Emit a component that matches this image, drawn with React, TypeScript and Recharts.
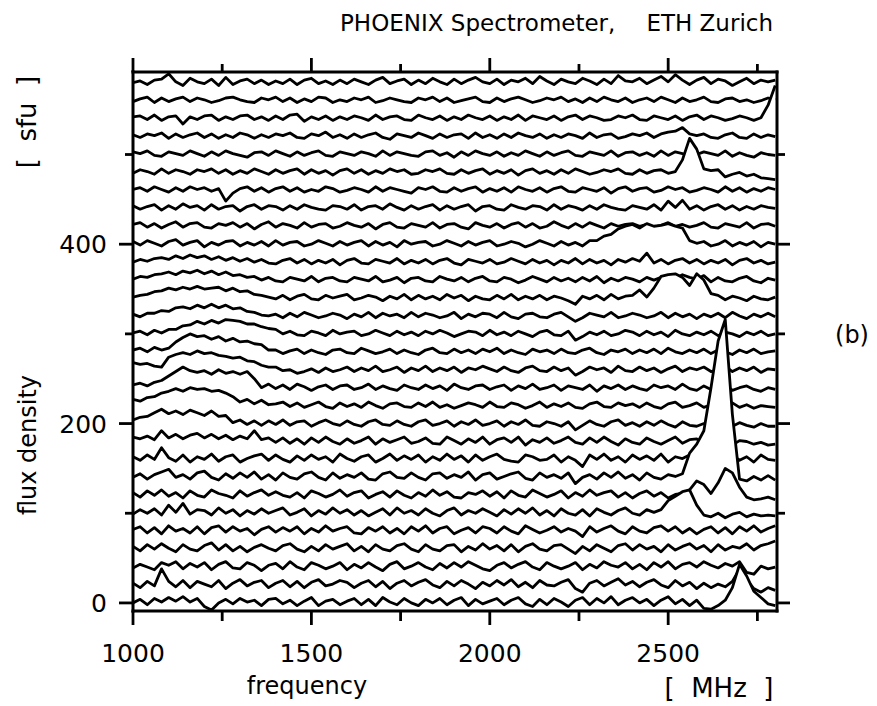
import React from 'react';
import { AreaChart, Area, XAxis, YAxis } from 'recharts';

const freqs = [
  1000, 1020, 1040, 1060, 1080, 1100, 1120, 1140, 1160, 1180,
  1200, 1220, 1240, 1260, 1280, 1300, 1320, 1340, 1360, 1380,
  1400, 1420, 1440, 1460, 1480, 1500, 1520, 1540, 1560, 1580,
  1600, 1620, 1640, 1660, 1680, 1700, 1720, 1740, 1760, 1780,
  1800, 1820, 1840, 1860, 1880, 1900, 1920, 1940, 1960, 1980,
  2000, 2020, 2040, 2060, 2080, 2100, 2120, 2140, 2160, 2180,
  2200, 2220, 2240, 2260, 2280, 2300, 2320, 2340, 2360, 2380,
  2400, 2420, 2440, 2460, 2480, 2500, 2520, 2540, 2560, 2580,
  2600, 2620, 2640, 2660, 2680, 2700, 2720, 2740, 2760, 2780,
  2800,
];

const offsets = [0, 20, 40, 60, 80, 100, 120, 140, 160, 180, 200, 220, 240, 260, 280, 300, 320, 340, 360, 380, 400, 420, 440, 460, 480, 500, 520, 540, 560, 580];

const xTicks = [1000, 1250, 1500, 1750, 2000, 2250, 2500, 2750];
const xLabels = [1000, 1500, 2000, 2500];
const yTicks = [0, 100, 200, 300, 400, 500];
const yLabels = [0, 200, 400];

const s0 = [0,4,-2,5,1,6,2,7,1,5, -4,-8,0,4,-1,5,1,3,-3,4, 5,-1,3,-3,2,6,-3,2,4,-2, 2,5,-2,4,-3,6,1,-2,5,0, -3,4,0,5,-2,3,6,-3,4,-1, 2,5,-2,3,6,-1,-4,4,-2,5, 1,-4,3,6,-2,5,0,7,-2,3, 6,0,4,-3,3,7,-1,4,-3,3, -6,-7,-3,3,17,43,30,13,6,-1, -3];
const s1 = [2,-3,4,-1,18,4,-2,5,-3,4, 1,-2,5,-4,2,6,-1,3,5,-3, 2,5,-2,4,-3,3,6,-1,1,5, 3,-3,2,5,-2,4,-4,2,5,-1, 3,6,0,-3,4,-1,5,1,-4,3, -1,5,0,6,-2,3,-3,5,0,-1, 3,6,-4,-8,2,5,-1,3,7,0, 4,-2,3,6,0,-3,5,-1,3,-4, 2,-3,1,-2,4,18,6,-4,-8,-3, -6];
const s2 = [-1,3,0,-3,5,2,6,-2,4,0, 5,-3,3,6,-1,-2,5,2,-4,2, 4,-2,6,0,-3,5,2,-2,1,5, -3,3,-1,5,0,-4,3,6,-2,1, 5,0,-3,4,-1,5,0,6,2,-2, -4,2,5,-1,3,6,0,-3,5,1, -2,1,5,-3,3,-1,6,2,0,5, -2,3,-3,5,0,6,-2,3,5,0, 6,2,-1,4,1,6,-6,-8,1,-2, 0];
const s3 = [3,-2,5,0,6,1,-3,5,0,-2, 4,7,-1,5,-2,3,-3,2,5,1, -2,4,6,0,-3,3,-2,5,0,3, 6,-2,3,-3,5,0,-2,4,6,0, -3,5,0,-2,4,5,-3,3,-1,6, 0,4,-2,5,-3,3,6,0,-2,4, 5,0,-5,3,-2,5,1,-3,4,6, -1,5,0,3,-3,5,-1,3,6,0, 4,-3,5,-1,3,1,6,-1,4,6, 9];
const s4 = [2,5,-2,4,-3,6,0,3,-2,5, -3,4,6,-1,5,0,3,-4,2,5, -1,4,0,5,-3,3,-1,6,0,3, 5,-2,-3,4,0,5,-2,3,-3,5, 0,6,-2,3,5,-3,1,4,-2,5, 3,-2,5,0,-3,6,2,-2,1,5, -1,3,0,-6,5,-1,3,6,0,-3, 5,0,-2,4,6,0,5,-2,3,-3, 2,5,-2,4,-3,5,0,6,-1,3, 6];
const s5 = [-1,4,0,5,-2,9,1,11,-1,4, 3,-2,6,0,4,-3,3,-1,5,0, 3,6,-2,1,5,-3,3,-1,6,0, 4,-2,3,-3,1,5,-2,6,0,3, -2,5,0,-3,3,6,-2,3,0,5, 1,-3,4,-1,5,0,6,-2,3,-3, 5,0,-2,4,-3,5,1,-2,3,6, 0,-2,4,1,4,14,19,24,26,9, -2,-4,0,-5,-1,1,-4,-1,-3,-2, -3];
const s6 = [3,-2,5,0,6,-1,3,-3,5,0, -2,6,2,0,-3,5,-1,3,6,0, 4,0,-2,3,-3,5,2,-2,1,6, -1,3,5,-3,1,4,-2,5,0,-3, 3,-1,6,0,4,-2,-3,3,1,5, -1,4,-3,5,0,-2,6,2,-2,1, 5,-3,3,-1,6,0,3,5,-2,3, -3,2,5,-1,3,-3,1,2,6,16, 12,2,14,30,25,9,-2,-5,-4,-2, -5];
const s7 = [0,4,-2,3,6,9,0,3,-2,5, 7,0,-3,4,-1,5,0,6,-2,3, -3,5,0,-2,4,6,0,-3,5,-1, 3,0,5,-2,-3,4,6,0,-1,5, 0,-3,4,5,-1,3,0,6,-3,3, 5,-2,1,4,6,-1,-3,5,0,3, -1,5,-7,0,3,-2,5,0,6,-1, 3,-3,5,0,-2,3,1,4,27,37, 52,100,152,176,70,-2,-4,1,-3,2, -3];
const s8 = [3,-1,5,0,13,2,-2,5,-3,3, 0,6,-2,3,5,-3,1,4,6,-1, 5,0,-3,4,-1,5,0,3,-3,6, 1,-2,3,5,-3,1,6,-1,4,0, 5,-3,3,-1,6,0,4,-3,5,-1, 3,6,0,-2,-3,5,3,-1,0,5, -3,3,-1,-8,5,0,6,-1,3,-3, 5,0,4,-1,6,-3,3,1,5,-1, 3,6,-3,1,5,-1,3,-3,5,0, -1];
const s9 = [5,3,6,2,12,4,8,3,7,9, 4,8,3,7,2,6,3,12,2,4, -1,4,-2,3,-3,4,-1,5,0,-3, 3,-2,1,5,-3,3,-1,2,5,-2, 0,4,-2,-3,5,1,-3,3,-1,5, -3,2,4,-1,5,-4,2,-1,4,-2, 1,5,-1,-3,4,-1,5,0,-4,3, -1,-3,4,0,-3,1,5,-2,2,3, -3,1,-2,3,-4,1,0,-3,-1,-4, -3];
const s10 = [4,7,8,12,16,11,14,10,15,12, 9,14,8,9,1,4,-1,3,-2,3, -1,4,-2,2,3,-3,1,4,0,-2, 3,-1,-3,2,4,-1,-2,3,-1,-3, 2,4,-2,0,3,-3,2,-1,4,-2, 0,3,-3,2,-1,4,-2,-3,2,0, -3,2,-7,-2,3,-1,-3,2,4,-2, 1,-3,2,-2,3,-1,-4,2,-2,-3, 0,-4,-1,2,-3,1,-2,-4,0,-3, -3];
const s11 = [7,5,9,10,14,16,19,16,20,18, 19,16,17,14,10,4,7,2,6,1, 2,4,-1,3,-2,1,4,-1,-3,3, -1,2,-2,4,0,-3,2,3,-1,-2, 3,-1,4,-2,1,-3,0,3,1,-2, 4,-1,-2,3,1,-3,0,4,-2,2, -1,3,-2,-3,2,4,-1,-2,3,0, 2,-2,3,-1,-3,2,4,-2,0,3, -2,1,-3,0,3,-2,1,-3,0,-1, -2];
const s12 = [3,5,2,6,8,13,18,23,19,17, 19,15,20,16,18,15,18,10,0,4, -1,3,-2,4,1,-3,1,3,-2,2, 3,-2,0,4,-2,2,-1,-3,3,0, -2,3,-1,2,-3,4,0,-2,2,3, -2,1,3,-3,2,-1,4,-2,0,3, -3,2,0,-2,3,-4,2,-1,3,-2, 2,-1,-3,3,0,2,-2,4,-1,-3, 2,-2,0,3,-3,0,2,-2,-4,0, -2];
const s13 = [8,6,7,4,3,14,17,19,17,21, 18,19,16,15,13,14,10,9,5,3, 3,-1,0,-4,-2,1,-3,2,-2,0, 3,-2,2,-1,4,-2,0,3,-3,2, -1,4,-2,2,-1,3,-3,2,0,4, 1,-2,3,-1,-3,2,4,-1,-2,3, -1,2,-6,-2,3,0,2,-3,4,-1, -2,3,-1,2,-3,1,4,-2,2,0, 3,-2,0,4,-2,2,-1,3,-3,1, 0];
const s14 = [2,4,0,5,2,4,11,16,20,17, 18,14,17,12,15,11,12,9,8,2, 2,-2,1,3,-2,2,-1,-3,2,3, -1,-2,4,1,-2,0,3,-2,2,-1, -3,2,4,-1,-2,3,-1,2,-2,3, 0,4,-2,2,-1,-3,3,0,2,-2, 3,-1,-2,2,4,-1,-3,2,0,3, -2,2,-1,3,-2,4,0,-2,2,-1, 3,-2,2,0,-3,2,-1,3,-2,0, 1];
const s15 = [1,3,-1,4,1,5,5,9,10,14, 11,15,12,16,15,14,11,11,8,6, 5,0,3,-1,-2,3,1,-2,4,0, 2,3,-2,0,4,1,-2,3,-1,2, -2,3,0,4,1,-3,0,3,2,-2, 4,-1,2,-2,3,0,-3,2,4,-1, -2,3,-7,-3,2,-1,3,-2,0,4, 2,-2,3,-1,2,-3,4,0,-2,2, -1,3,-2,2,0,-3,2,-1,3,-2, 0];
const s16 = [2,-1,3,3,6,5,9,10,8,12, 9,13,9,12,8,9,5,4,1,0, 2,-2,3,-1,4,1,-2,0,3,1, -3,2,-1,4,-2,3,0,2,-2,4, -1,3,1,-2,0,4,-3,2,-1,3, 2,-2,4,-1,-3,2,3,-1,-2,2, 4,-1,-6,-2,3,1,-1,4,-2,0, 3,1,-2,0,4,-2,3,-1,2,-3, 2,-1,3,-2,4,0,-3,2,-1,3, -1];
const s17 = [1,3,4,7,8,11,9,12,10,13, 10,11,12,8,11,7,8,4,3,1, -1,3,-2,2,4,-1,-2,3,0,2, 4,-2,0,3,1,-3,2,-1,4,-2, 3,-1,2,-2,4,0,3,-3,2,-1, -2,3,-1,4,-2,2,-1,3,-2,2, 0,-3,-7,2,-1,3,-2,4,-1,2, 3,9,1,11,24,26,27,23,14,27, 20,5,3,-2,2,0,-3,2,-1,-2, 1];
const s18 = [1,4,3,6,7,9,6,10,8,11, 7,10,6,9,5,6,3,4,0,3, -1,-2,3,1,-1,4,-2,2,3,-1, -2,3,1,-1,4,-2,0,3,-3,2, 3,-1,-2,4,1,-1,3,-2,2,4, -1,-2,3,1,-3,0,4,1,-2,3, -1,2,-2,3,-1,4,-3,2,-1,3, 1,-2,3,0,3,5,2,6,3,1, 5,-2,3,-1,-2,2,4,-1,-3,2, 0];
const s19 = [0,3,1,4,5,3,7,4,8,5, 7,3,6,2,5,1,4,0,3,-1, -2,2,4,-1,3,-2,2,-1,3,-3, 2,4,-1,-2,3,1,-1,4,-2,2, -1,3,-2,2,4,-1,-3,3,1,-1, 3,-2,0,4,1,-2,3,-1,2,-3, 2,-1,4,-2,3,-1,2,-3,3,0, 4,1,10,-1,3,-2,2,4,-1,3, -2,2,-1,3,-3,2,4,-1,2,-2, 0];
const s20 = [3,-1,4,1,-2,3,5,-1,2,4, -3,2,-1,3,4,-2,2,-1,3,-2, 4,-1,2,3,-2,0,4,1,-2,3, -1,2,4,-2,3,-1,2,-3,4,0, 2,3,-2,0,4,1,-2,3,-1,2, 4,-2,0,3,1,-3,0,4,1,-2, 3,-1,2,-2,4,4,9,11,17,20, 22,18,23,20,21,23,20,18,4,1, 3,-2,0,4,-2,2,-1,3,-3,2, 0];
const s21 = [2,4,-1,3,-2,2,5,-1,3,4, -1,-2,3,1,4,-1,3,-3,2,5, -1,3,1,-2,4,-1,2,3,-2,0, 4,1,-1,3,-3,2,4,-1,-2,3, 1,-1,4,-2,2,3,-1,-3,4,1, -1,3,-2,2,4,-1,3,-2,0,5, 1,-2,3,-1,4,1,-2,3,0,2, 3,0,2,-1,1,4,0,2,-1,1, 4,-1,-2,3,1,-1,4,-2,2,3, 0];
const s22 = [3,-1,2,4,-2,3,-1,5,1,3, -2,4,-1,2,3,-3,2,4,-1,3, 2,-2,3,-1,4,1,-1,-2,3,2, -1,4,-2,2,3,-1,5,1,-2,3, -1,2,4,-2,3,-1,2,4,-3,2, 3,-1,-2,4,1,-1,3,2,-2,4, -1,3,1,-2,3,-1,4,1,-1,-2, 3,1,-1,4,-2,8,1,9,-1,3, -2,2,4,-1,3,-2,2,-1,3,1, 0];
const s23 = [1,3,-1,4,1,-2,3,-1,4,1, 3,-1,2,-12,-3,2,4,-1,3,-2, 2,4,-1,3,-2,1,-1,4,2,-2, 0,3,1,-2,4,-1,3,1,-1,-3, 3,1,4,-1,-2,3,-1,2,4,-2, 2,-1,3,-2,4,1,-1,3,-2,2, 4,-1,-2,3,1,-1,3,-3,2,4, -1,2,3,-2,0,4,1,3,-2,0, 3,1,-2,4,-1,3,-2,2,-1,3, 1];
const s24 = [-1,3,1,-2,4,-1,3,1,-2,3, 1,4,-1,3,-2,2,-1,4,1,-2, 3,-1,2,4,-2,3,-1,2,-3,2, 4,-1,3,-2,2,-1,4,1,3,-2, -1,3,1,4,-1,-2,3,-1,2,4, -2,2,-1,3,-3,2,4,-1,2,-2, 3,-1,4,1,-2,0,3,1,4,-1, -2,3,-1,2,3,-1,1,14,38,26, 4,2,3,-5,-2,0,-4,-2,-6,-7, -8];
const s25 = [3,1,4,-1,-2,3,1,-1,4,1, -2,3,-1,4,1,-1,-3,2,3,-1, 4,1,-2,3,-1,2,4,-1,-2,3, 1,-1,3,1,-2,4,-1,3,1,-1, -2,3,4,-1,2,-3,3,-1,4,1, -1,3,-2,2,-1,4,1,-2,3,-1, 2,4,-1,-2,3,1,-1,4,-2,2, 3,-1,2,-2,4,-1,3,1,-2,0, 3,1,-1,4,-2,2,-1,-3,2,0, -1];
const s26 = [2,-1,3,1,4,-2,3,-1,2,4, -1,3,-2,2,-1,4,2,-2,2,-1, 3,1,4,-1,-2,3,1,5,-1,2, -2,3,-1,2,4,-1,-3,3,1,-1, 4,1,-2,3,-1,2,3,-2,4,-1, 2,-2,3,-1,4,1,-1,3,-2,2, -1,3,1,-2,4,-1,2,3,-2,0, 3,1,4,-1,3,5,6,10,3,1, 3,-1,-2,2,4,-1,-2,3,-1,2, 0];
const s27 = [2,3,-1,4,-2,2,3,-6,2,-1, 3,4,-2,2,-1,3,4,-1,2,-2, 3,-1,4,5,-3,2,-1,3,-2,2, -1,3,1,-2,4,-1,2,3,-1,-2, 4,1,-1,3,-2,2,-1,4,1,-1, 3,-2,2,-1,4,-2,3,1,-1,3, -2,2,4,-1,3,1,-2,-1,3,1, 4,-1,-2,3,1,-1,3,-2,2,4, -1,3,1,-2,0,3,1,-2,1,15, 37];
const s28 = [-1,2,4,-2,3,-1,2,4,-1,3, 1,-2,0,3,4,1,-1,-2,3,1, 4,-1,3,-2,2,-1,4,3,-2,1, -1,3,1,4,-2,0,3,1,-1,-2, 3,1,4,-1,3,-2,0,2,4,-1, -2,3,-1,2,4,1,-2,0,3,1, 4,-1,2,-2,3,-1,4,1,-1,3, -2,1,3,-1,4,1,-2,3,-1,1, 4,-1,-2,2,3,-1,1,-2,0,3, 1];
const s29 = [0,2,-2,3,4,10,1,-3,5,1, -1,4,-3,6,-2,2,4,-1,3,-2, 2,-1,4,-2,3,5,-1,2,-2,3, -1,4,1,-2,3,6,-1,2,4,-2, 3,-1,5,1,-2,4,-1,3,6,1, -1,4,-2,3,1,5,-1,7,2,-2, 4,1,-1,5,2,-2,4,-1,8,2, 1,5,-1,3,7,1,9,3,-2,3, 6,-1,4,2,-3,1,5,-1,3,1, 3];

const spectra = [s0, s1, s2, s3, s4, s5, s6, s7, s8, s9, s10, s11, s12, s13, s14, s15, s16, s17, s18, s19, s20, s21, s22, s23, s24, s25, s26, s27, s28, s29];

const data = freqs.map((f, k) => {
  const row: Record<string, number> = { f };
  spectra.forEach((s, i) => {
    if (s[k] !== undefined) row['s' + i] = offsets[i] + s[k];
  });
  return row;
});

const FONT = 'DejaVu Sans, Verdana, sans-serif';
const INK = '#000';
const LW = 2.8;

const BottomTick = (props: any) => {
  const { x, y, payload } = props;
  const major = xLabels.includes(payload.value);
  return (
    <g>
      <line x1={x} y1={y} x2={x} y2={y + (major ? 14 : 10)} stroke={INK} strokeWidth={LW} />
      {major && (
        <text x={x} y={y + 51} textAnchor="middle" fontSize={25} fontFamily={FONT} fill={INK}>
          {payload.value}
        </text>
      )}
    </g>
  );
};

const TopTick = (props: any) => {
  const { x, y, payload } = props;
  const major = xLabels.includes(payload.value);
  return <line x1={x} y1={y} x2={x} y2={y - (major ? 14 : 8)} stroke={INK} strokeWidth={LW} />;
};

const LeftTick = (props: any) => {
  const { x, y, payload } = props;
  const major = yLabels.includes(payload.value);
  return (
    <g>
      <line x1={x} y1={y} x2={x - (major ? 14 : 8)} y2={y} stroke={INK} strokeWidth={LW} />
      {major && (
        <text x={x - 26} y={y + 9} textAnchor="end" fontSize={25} fontFamily={FONT} fill={INK}>
          {payload.value}
        </text>
      )}
    </g>
  );
};

const RightTick = (props: any) => {
  const { x, y, payload } = props;
  const major = yLabels.includes(payload.value);
  return <line x1={x} y1={y} x2={x + (major ? 13 : 8)} y2={y} stroke={INK} strokeWidth={LW} />;
};

const axisLine = { stroke: INK, strokeWidth: 3, strokeLinecap: 'square' as const };

export default function App() {
  const order = spectra.map((_, i) => i).reverse();
  return (
    <div style={{ position: 'absolute', left: 0, top: 0, width: 877, height: 706, background: '#fff' }}>
      <AreaChart width={877} height={706} data={data} margin={{ top: 0, right: 0, bottom: 0, left: 0 }}>
        {order.map((i) => (
          <Area
            key={i}
            xAxisId="b"
            yAxisId="l"
            type="linear"
            dataKey={'s' + i}
            stroke={INK}
            strokeWidth={LW}
            strokeLinejoin="round"
            fill="#fff"
            fillOpacity={1}
            baseValue={-9}
            dot={false}
            activeDot={false}
            isAnimationActive={false}
          />
        ))}
        <XAxis
          xAxisId="b"
          dataKey="f"
          type="number"
          orientation="bottom"
          domain={[1000, 2805]}
          allowDataOverflow
          ticks={xTicks}
          interval={0}
          height={95}
          tickSize={0}
          tickMargin={0}
          tickLine={false}
          axisLine={axisLine}
          tick={(p: any) => <BottomTick {...p} />}
        />
        <XAxis
          xAxisId="t"
          dataKey="f"
          type="number"
          orientation="top"
          domain={[1000, 2805]}
          allowDataOverflow
          ticks={xTicks}
          interval={0}
          height={72}
          tickSize={0}
          tickMargin={0}
          tickLine={false}
          axisLine={axisLine}
          tick={(p: any) => <TopTick {...p} />}
        />
        <YAxis
          yAxisId="l"
          type="number"
          orientation="left"
          domain={[-9, 592]}
          allowDataOverflow
          ticks={yTicks}
          interval={0}
          width={133}
          tickSize={0}
          tickMargin={0}
          tickLine={false}
          axisLine={axisLine}
          tick={(p: any) => <LeftTick {...p} />}
        />
        <YAxis
          yAxisId="r"
          type="number"
          orientation="right"
          domain={[-9, 592]}
          allowDataOverflow
          ticks={yTicks}
          interval={0}
          width={100}
          tickSize={0}
          tickMargin={0}
          tickLine={false}
          axisLine={axisLine}
          tick={(p: any) => <RightTick {...p} />}
        />
      </AreaChart>
      <svg width={877} height={706} style={{ position: 'absolute', left: 0, top: 0, pointerEvents: 'none' }}>
        <text x={340} y={31} fontSize={23} fontFamily={FONT} fill={INK}>PHOENIX Spectrometer,</text>
        <text x={773} y={31} fontSize={23} fontFamily={FONT} fill={INK} textAnchor="end">ETH Zurich</text>
        <text x={852} y={343} fontSize={24} fontFamily={FONT} fill={INK} textAnchor="middle">(b)</text>
        <text x={307} y={694} fontSize={24} fontFamily={FONT} fill={INK} textAnchor="middle">frequency</text>
        <text x={719} y={697} fontSize={26} fontFamily={FONT} fill={INK} textAnchor="middle" style={{ whiteSpace: 'pre' }}>{'[  MHz  ]'}</text>
        <text transform="translate(36,445) rotate(-90)" fontSize={24} fontFamily={FONT} fill={INK} textAnchor="middle">flux density</text>
        <text transform="translate(36,122) rotate(-90)" fontSize={26} fontFamily={FONT} fill={INK} textAnchor="middle" style={{ whiteSpace: 'pre' }}>{'[  sfu  ]'}</text>
      </svg>
    </div>
  );
}
